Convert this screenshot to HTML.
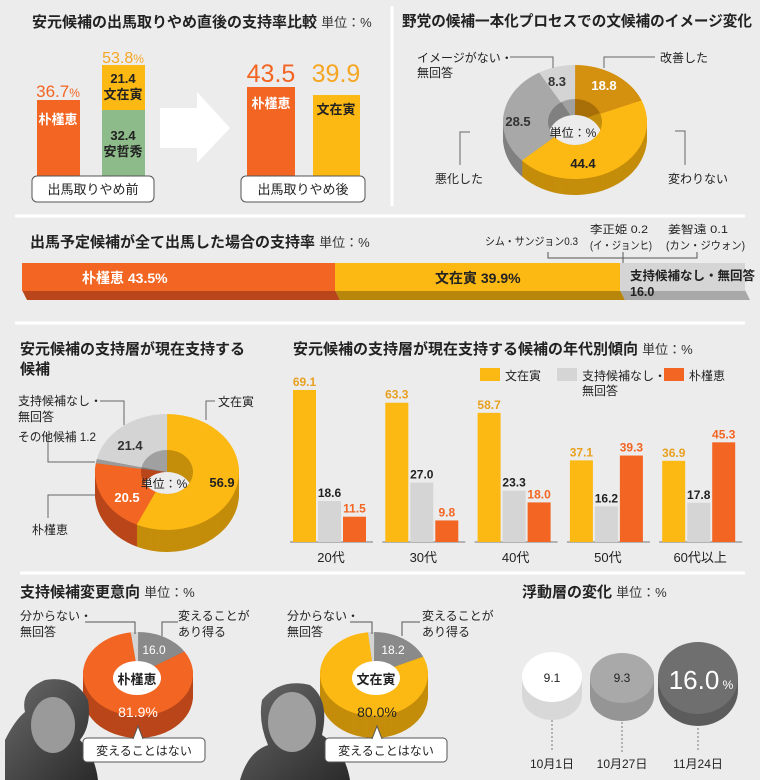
<!DOCTYPE html>
<html><head><meta charset="utf-8">
<style>
html,body{margin:0;padding:0;background:#ececec;}
svg{display:block;font-family:"Liberation Sans","Noto Sans CJK JP",sans-serif;}
.t{font-size:15px;font-weight:bold;fill:#222;}
.u{font-size:13px;fill:#333;}
.l{font-size:12px;fill:#222;}
.b{font-weight:bold;}
</style></head><body>
<svg id="s" width="760" height="780" viewBox="0 0 760 780" xmlns="http://www.w3.org/2000/svg">
<defs>
<linearGradient id="face" x1="0" y1="0" x2="1" y2="1"><stop offset="0" stop-color="#6a6a6a"/><stop offset="1" stop-color="#2a2a2a"/></linearGradient>
</defs>
<rect width="760" height="780" fill="#ececec"/>
<g stroke="#fff" stroke-width="3">
<line x1="392" y1="6" x2="392" y2="206"/>
<line x1="15" y1="216" x2="745" y2="216"/>
<line x1="15" y1="323" x2="745" y2="323"/>
<line x1="20" y1="573" x2="745" y2="573"/>
</g>
<g id="shapes"></g>

<!-- Section 1 -->
<text x="32" y="27" class="t">安元候補の出馬取りやめ直後の支持率比較 <tspan class="u" font-weight="normal">単位：%</tspan></text>
<rect x="37" y="100" width="43" height="76" fill="#f26522"/>
<rect x="102" y="65" width="43" height="45" fill="#fdb913"/>
<rect x="102" y="110" width="43" height="66" fill="#8dbb8a"/>
<text x="58" y="97" text-anchor="middle" font-size="17" fill="#f26522">36.7<tspan font-size="12">%</tspan></text>
<text x="123" y="63" text-anchor="middle" font-size="16" fill="#f5a623">53.8<tspan font-size="12">%</tspan></text>
<text x="58" y="124" text-anchor="middle" font-size="13" fill="#fff" class="b">朴槿恵</text>
<text x="123" y="83" text-anchor="middle" font-size="13" class="b" fill="#222">21.4</text>
<text x="123" y="99" text-anchor="middle" font-size="13" class="b" fill="#222">文在寅</text>
<text x="123" y="140" text-anchor="middle" font-size="13" class="b" fill="#222">32.4</text>
<text x="123" y="156" text-anchor="middle" font-size="13" class="b" fill="#222">安哲秀</text>
<rect x="32" y="176" width="122" height="26" rx="5" fill="#fff" stroke="#555"/>
<text x="93" y="194" text-anchor="middle" font-size="13" fill="#222">出馬取りやめ前</text>
<polygon points="160,108 197,108 197,92 230,128 197,163 197,148 160,148" fill="#fff"/>
<rect x="247" y="87" width="48" height="89" fill="#f26522"/>
<rect x="313" y="95" width="47" height="81" fill="#fdb913"/>
<text x="271" y="82" text-anchor="middle" font-size="25" fill="#f26522">43.5</text>
<text x="336" y="82" text-anchor="middle" font-size="25" fill="#f5a623">39.9</text>
<text x="271" y="108" text-anchor="middle" font-size="13" class="b" fill="#fff">朴槿恵</text>
<text x="336" y="114" text-anchor="middle" font-size="13" class="b" fill="#222">文在寅</text>
<rect x="241" y="176" width="124" height="26" rx="5" fill="#fff" stroke="#555"/>
<text x="303" y="194" text-anchor="middle" font-size="13" fill="#222">出馬取りやめ後</text>

<!-- Section 2 -->
<text x="402" y="26" class="t" textLength="350" lengthAdjust="spacingAndGlyphs">野党の候補一本化プロセスでの文候補のイメージ変化</text>
<g stroke="#666" fill="none" stroke-width="1">
<polyline points="510,57 553,57 553,68"/>
<polyline points="655,57 604,57 604,68"/>
<polyline points="460,165 460,132 470,132"/>
<polyline points="685,165 685,131 675,131"/>
</g>

<!-- Section 3 -->
<text x="30" y="247" class="t">出馬予定候補が全て出馬した場合の支持率 <tspan class="u" font-weight="normal">単位：%</tspan></text>
<text x="485" y="245" font-size="11" fill="#222" textLength="93" lengthAdjust="spacingAndGlyphs">シム・サンジョン0.3</text>
<text x="590" y="233" font-size="11" fill="#222" textLength="58" lengthAdjust="spacingAndGlyphs">李正姫 0.2</text>
<text x="590" y="249" font-size="11" fill="#222" textLength="62" lengthAdjust="spacingAndGlyphs">(イ・ジョンヒ)</text>
<text x="668" y="233" font-size="11" fill="#222" textLength="60" lengthAdjust="spacingAndGlyphs">姜智遠 0.1</text>
<text x="666" y="249" font-size="11" fill="#222" textLength="79" lengthAdjust="spacingAndGlyphs">(カン・ジウォン)</text>
<polyline points="548,252 548,258 697,258 697,252" stroke="#555" fill="none"/>
<line x1="623" y1="252" x2="623" y2="292" stroke="#555"/>
<polygon points="22,290 335,290 340,300 27,300" fill="#b9461a"/>
<polygon points="335,290 620,290 625,300 340,300" fill="#b8860b"/>
<polygon points="620,290 745,290 750,300 625,300" fill="#a8a8a8"/>
<rect x="22" y="263" width="313" height="28" fill="#f26522"/>
<rect x="335" y="263" width="285" height="28" fill="#fdb913"/>
<rect x="620" y="263" width="125" height="28" fill="#d5d5d5"/>
<text x="82" y="283" font-size="14" class="b" fill="#fff">朴槿恵 43.5%</text>
<text x="435" y="283" font-size="14" class="b" fill="#222">文在寅 39.9%</text>
<text x="630" y="280" font-size="12.5" class="b" fill="#222">支持候補なし・無回答</text>
<text x="630" y="296" font-size="12.5" class="b" fill="#222">16.0</text>

<!-- Section 4 left -->
<text x="20" y="354" class="t">安元候補の支持層が現在支持する</text>
<text x="20" y="374" class="t">候補</text>
<g stroke="#666" fill="none">
<polyline points="100,401 124,401 124,425"/>
<polyline points="215,401 206,401 206,420"/>
<polyline points="48,436 48,462 95,462"/>
<polyline points="48,518 48,495 95,495"/>
</g>
<text x="18" y="405" class="l">支持候補なし・</text>
<text x="18" y="421" class="l">無回答</text>
<text x="18" y="441" class="l" textLength="78" lengthAdjust="spacingAndGlyphs">その他候補 1.2</text>
<text x="32" y="534" class="l">朴槿恵</text>
<text x="218" y="406" class="l">文在寅</text>

<!-- Section 4 right -->
<text x="293" y="354" class="t">安元候補の支持層が現在支持する候補の年代別傾向 <tspan class="u" font-weight="normal">単位：%</tspan></text>
<rect x="480" y="368" width="20" height="13" fill="#fdb913"/>
<text x="505" y="380" class="l">文在寅</text>
<rect x="557" y="368" width="20" height="13" fill="#d5d5d5"/>
<text x="582" y="380" class="l">支持候補なし・</text>
<text x="582" y="395" class="l">無回答</text>
<rect x="664" y="368" width="20" height="13" fill="#f26522"/>
<text x="689" y="380" class="l">朴槿恵</text>
<g id="bars"></g>

<!-- Section 5 -->
<text x="20" y="597" class="t">支持候補変更意向 <tspan class="u" font-weight="normal">単位：%</tspan></text>
<g stroke="#555" fill="none">
<polyline points="85,622 135,622 135,634"/>
<polyline points="178,622 162,622 162,636"/>
<polyline points="350,622 372,622 372,634"/>
<polyline points="420,622 402,622 402,636"/>
</g>
<text x="20" y="620" class="l">分からない・</text>
<text x="20" y="636" class="l">無回答</text>
<text x="178" y="620" class="l">変えることが</text>
<text x="178" y="636" class="l">あり得る</text>
<text x="287" y="620" class="l">分からない・</text>
<text x="287" y="636" class="l">無回答</text>
<text x="422" y="620" class="l">変えることが</text>
<text x="422" y="636" class="l">あり得る</text>
<path d="M5,780 L5,740 Q15,720 25,712 Q20,690 45,680 Q75,675 88,700 Q92,725 80,740 Q95,755 98,780 Z" fill="url(#face)"/>
<ellipse cx="53" cy="725" rx="22" ry="28" fill="#9a9a9a"/>
<path d="M240,780 Q248,752 268,745 Q258,722 262,700 Q280,678 310,685 Q330,700 322,735 Q345,750 350,780 Z" fill="url(#face)"/>
<ellipse cx="292" cy="722" rx="24" ry="30" fill="#a0a0a0"/>

<!-- Section 6 -->
<text x="522" y="597" class="t">浮動層の変化 <tspan class="u" font-weight="normal">単位：%</tspan></text>
<g stroke="#777" stroke-dasharray="2,2">
<line x1="552" y1="720" x2="552" y2="752"/>
<line x1="622" y1="722" x2="622" y2="752"/>
<line x1="698" y1="728" x2="698" y2="752"/>
</g>
<text x="552" y="768" text-anchor="middle" class="l">10月1日</text>
<text x="622" y="768" text-anchor="middle" class="l">10月27日</text>
<text x="698" y="768" text-anchor="middle" class="l">11月24日</text>
<g id="top"></g>
</svg>
<script>
var NS="http://www.w3.org/2000/svg";
var S=document.getElementById('shapes'), TOP=document.getElementById('top');
function el(p,n,a){var e=document.createElementNS(NS,n);for(var k in a)e.setAttribute(k,a[k]);p.appendChild(e);return e;}
function txt(p,x,y,s,a){a=a||{};a.x=x;a.y=y;a['text-anchor']=a['text-anchor']||'middle';var e=el(p,'text',a);e.textContent=s;return e;}
function pt(cx,cy,rx,ry,t){return [cx+rx*Math.sin(t),cy-ry*Math.cos(t)];}
function sector(cx,cy,rx,ry,hx,hy,a0,a1){
  var L=(a1-a0)>Math.PI?1:0,p0=pt(cx,cy,rx,ry,a0),p1=pt(cx,cy,rx,ry,a1);
  var d='M'+p0+' A'+rx+' '+ry+' 0 '+L+' 1 '+p1;
  if(hx>0){var q1=pt(cx,cy,hx,hy,a1),q0=pt(cx,cy,hx,hy,a0);d+=' L'+q1+' A'+hx+' '+hy+' 0 '+L+' 0 '+q0+' Z';}
  else d+=' L'+cx+','+cy+' Z';
  return d;}
var cid=0;
function donut(cx,cy,rx,ry,dep,hx,hy,sl){
  var tot=0;sl.forEach(function(s){tot+=s.v;});
  var angs=[],a=0;sl.forEach(function(s){var b=a+s.v/tot*2*Math.PI;angs.push([a,b]);a=b;});
  for(var d=dep;d>=1;d--) sl.forEach(function(s,i){el(S,'path',{d:sector(cx,cy+d,rx,ry,0,0,angs[i][0],angs[i][1]+0.002),fill:s.d});});
  sl.forEach(function(s,i){el(S,'path',{d:sector(cx,cy,rx,ry,0,0,angs[i][0],angs[i][1]+0.002),fill:s.c});});
  if(hx>0){
    cid++;var cp=el(S,'clipPath',{id:'h'+cid});el(cp,'ellipse',{cx:cx,cy:cy,rx:hx,ry:hy});
    var g=el(S,'g',{'clip-path':'url(#h'+cid+')'});
    sl.forEach(function(s,i){el(g,'path',{d:sector(cx,cy,hx+1,hy+1,0,0,angs[i][0],angs[i][1]+0.002),fill:s.d});});
    el(g,'ellipse',{cx:cx,cy:cy+dep,rx:hx,ry:hy,fill:'#ececec'});
  }
}
donut(575,122,72,57,16,27,23,[{v:18.8,c:'#d4900f',d:'#a86f08'},{v:44.4,c:'#fdb913',d:'#c48d0a'},{v:28.5,c:'#a8a8a8',d:'#808080'},{v:8.3,c:'#d4d4d4',d:'#a0a0a0'}]);
donut(167,472,72,58,22,26,22,[{v:56.9,c:'#fdb913',d:'#c48d0a'},{v:20.5,c:'#f26522',d:'#b9461a'},{v:1.2,c:'#9a9a9a',d:'#777'},{v:21.4,c:'#d4d4d4',d:'#a0a0a0'}]);
donut(138,674,55,42,22,0,0,[{v:16,c:'#8a8a8a',d:'#666'},{v:81.9,c:'#f26522',d:'#b9461a'},{v:2.1,c:'#d4d4d4',d:'#aaa'}]);
donut(374,674,54,42,22,0,0,[{v:18.2,c:'#8a8a8a',d:'#666'},{v:80.0,c:'#fdb913',d:'#c48d0a'},{v:1.8,c:'#d4d4d4',d:'#aaa'}]);
function cyl(cx,cy,rx,ry,dep,c,d){el(S,'rect',{x:cx-rx,y:cy,width:2*rx,height:dep,fill:d});el(S,'ellipse',{cx:cx,cy:cy+dep,rx:rx,ry:ry,fill:d});el(S,'ellipse',{cx:cx,cy:cy,rx:rx,ry:ry,fill:c});}
cyl(552,677,30,25,18,'#ffffff','#d8d8d8');
cyl(622,678,32,25,18,'#a9a9a9','#959595');
cyl(698,678,40,36,12,'#6f6f6f','#5c5c5c');

var B=document.getElementById('bars');
var data=[[69.1,18.6,11.5,'20代'],[63.3,27.0,9.8,'30代'],[58.7,23.3,18.0,'40代'],[37.1,16.2,39.3,'50代'],[36.9,17.8,45.3,'60代以上']];
var cols=['#fdb913','#d5d5d5','#f26522'],tc=['#e8a020','#222','#f26522'];
data.forEach(function(g,i){var x0=293+i*92.3;
  el(B,'line',{x1:x0-3,y1:542,x2:x0+80,y2:542,stroke:'#777'});
  for(var j=0;j<3;j++){var h=g[j]*2.2,x=x0+j*25;
    el(B,'rect',{x:x,y:542-h,width:23,height:h,fill:cols[j]});
    txt(B,x+11.5,538-h,g[j].toFixed(1),{'font-size':12,'font-weight':'bold',fill:tc[j]});}
  txt(B,x0+38,562,g[3],{'font-size':13,fill:'#222'});
});

txt(TOP,557,86,'8.3',{'font-size':13,'font-weight':'bold',fill:'#333'});
txt(TOP,604,90,'18.8',{'font-size':13,'font-weight':'bold',fill:'#fff'});
txt(TOP,518,126,'28.5',{'font-size':13,'font-weight':'bold',fill:'#333'});
txt(TOP,583,168,'44.4',{'font-size':13,'font-weight':'bold',fill:'#222'});
txt(TOP,573,137,'単位：%',{'font-size':12,fill:'#222'});
txt(TOP,417,62,'イメージがない・',{'font-size':12,fill:'#222','text-anchor':'start'});
txt(TOP,417,77,'無回答',{'font-size':12,fill:'#222','text-anchor':'start'});
txt(TOP,660,62,'改善した',{'font-size':12,fill:'#222','text-anchor':'start'});
txt(TOP,435,183,'悪化した',{'font-size':12,fill:'#222','text-anchor':'start'});
txt(TOP,668,183,'変わりない',{'font-size':12,fill:'#222','text-anchor':'start'});
txt(TOP,130,450,'21.4',{'font-size':13,'font-weight':'bold',fill:'#333'});
txt(TOP,222,487,'56.9',{'font-size':13,'font-weight':'bold',fill:'#222'});
txt(TOP,127,502,'20.5',{'font-size':13,'font-weight':'bold',fill:'#fff'});
txt(TOP,164,488,'単位：%',{'font-size':12,fill:'#222'});
el(TOP,'ellipse',{cx:137,cy:678,rx:24,ry:17,fill:'#fff'});
txt(TOP,137,684,'朴槿恵',{'font-size':13,'font-weight':'bold',fill:'#222'});
txt(TOP,154,654,'16.0',{'font-size':12,fill:'#fff'});
txt(TOP,138,717,'81.9%',{'font-size':14,fill:'#fff'});
el(TOP,'ellipse',{cx:376,cy:678,rx:24,ry:17,fill:'#fff'});
txt(TOP,376,684,'文在寅',{'font-size':13,'font-weight':'bold',fill:'#222'});
txt(TOP,393,654,'18.2',{'font-size':12,fill:'#fff'});
txt(TOP,377,717,'80.0%',{'font-size':14,fill:'#222'});
[[83,138],[325,377]].forEach(function(b){
  el(TOP,'rect',{x:b[0],y:738,width:122,height:24,rx:4,fill:'#fff',stroke:'#555'});
  el(TOP,'polyline',{points:(b[1]-5)+',739 '+b[1]+',726 '+(b[1]+5)+',739',fill:'#fff',stroke:'#555'});
  txt(TOP,b[0]+61,755,'変えることはない',{'font-size':12,fill:'#222'});
});
txt(TOP,552,682,'9.1',{'font-size':12,fill:'#222'});
txt(TOP,622,682,'9.3',{'font-size':12,fill:'#222'});
txt(TOP,694,689,'16.0',{'font-size':26,fill:'#fff'});
txt(TOP,728,689,'%',{'font-size':12,fill:'#fff'});
</script>
</body></html>
